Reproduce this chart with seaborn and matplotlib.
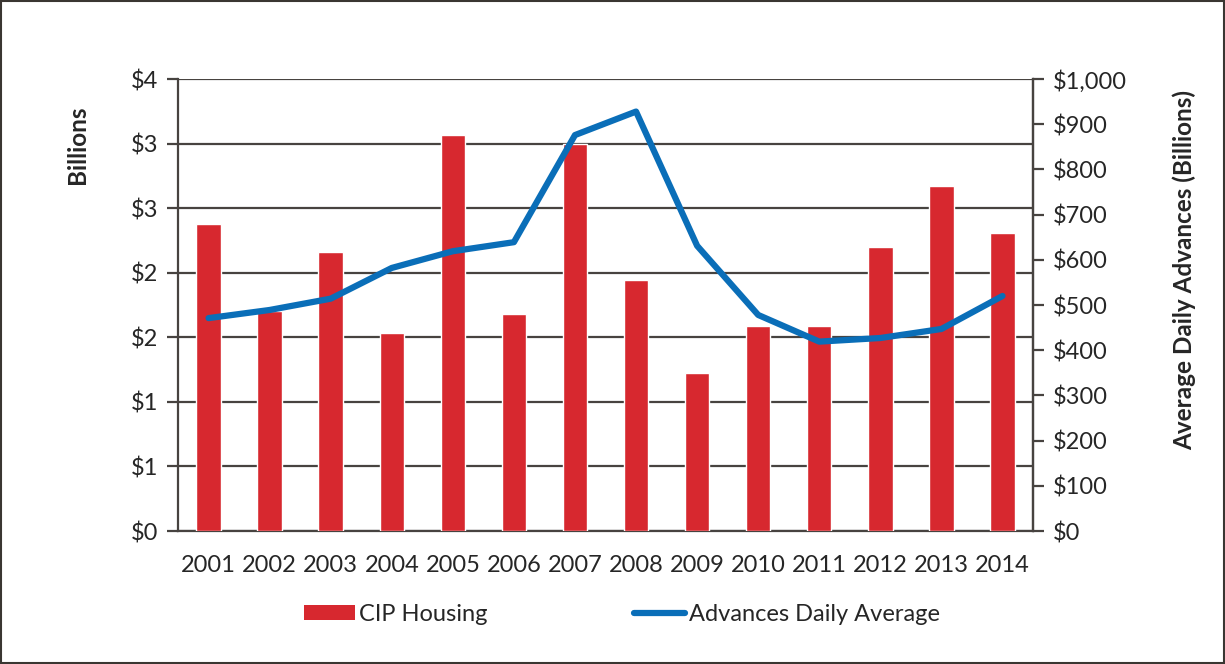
import numpy as np
import pandas as pd
import matplotlib.pyplot as plt
import matplotlib.ticker as mticker
from matplotlib.patches import Rectangle
from matplotlib.lines import Line2D
from matplotlib.patches import Patch
import seaborn as sns

years = ["2001", "2002", "2003", "2004", "2005", "2006", "2007",
         "2008", "2009", "2010", "2011", "2012", "2013", "2014"]
cip_housing = [2.38, 1.70, 2.16, 1.53, 3.07, 1.68, 3.00,
               1.94, 1.22, 1.59, 1.59, 2.20, 2.67, 2.31]
advances_avg = [471, 489, 514, 582, 619, 639, 876,
                928, 631, 478, 419, 427, 447, 520]
left_ticks = [0, 0.5, 1, 1.5, 2, 2.5, 3, 3.5]
left_tick_labels = ["$0", "$1", "$1", "$2", "$2", "$3", "$3", "$4"]
right_ticks = [0, 100, 200, 300, 400, 500, 600, 700, 800, 900, 1000]

df = pd.DataFrame({"year": years, "cip": cip_housing, "adv": advances_avg})

sns.set_style("white")
plt.rcParams["font.family"] = ["Lato", "DejaVu Sans"]

bar_color = "#D7282F"
line_color = "#0A6EB8"
grid_color = "#474340"
fs = 17

fig = plt.figure(figsize=(12.25, 6.64), dpi=100)
ax = fig.add_axes([0.1453, 0.2003, 0.698, 0.6807])

sns.barplot(data=df, x="year", y="cip", color=bar_color, width=0.4,
            saturation=1, ax=ax, zorder=3)
ax.set_ylim(0, 3.5)
ax.set_xlim(-0.5, len(years) - 0.5)
ax.set_yticks(left_ticks)
ax.set_yticklabels(left_tick_labels)
ax.yaxis.grid(True, color=grid_color, linewidth=1.6, zorder=0)
ax.set_axisbelow(True)
ax.set_xlabel("")
ax.set_ylabel("")

# tick marks between categories, labels centred under bars
ax.set_xticks(np.arange(-0.5, len(years), 1.0), minor=False)
ax.set_xticklabels([])
ax.set_xticks(np.arange(len(years)), minor=True)
ax.set_xticklabels(years, minor=True)
ax.tick_params(axis="x", which="major", length=8, width=1.6, color=grid_color,
               direction="out")
ax.tick_params(axis="x", which="minor", length=0, labelsize=fs, pad=17)
ax.tick_params(axis="y", length=8, width=1.6, color=grid_color,
               labelsize=fs, pad=6)

for side in ["left", "bottom", "right"]:
    ax.spines[side].set_color(grid_color)
    ax.spines[side].set_linewidth(1.6)
ax.spines["top"].set_visible(False)

ax2 = ax.twinx()
sns.lineplot(data=df, x="year", y="adv", color=line_color, linewidth=4.5,
             ax=ax2, sort=False, zorder=4)
ax2.set_ylim(0, 1000)
ax2.set_yticks(right_ticks)
ax2.yaxis.set_major_formatter(mticker.FuncFormatter(lambda v, p: f"${v:,.0f}"))
ax2.tick_params(axis="y", length=8, width=1.6, color=grid_color,
                labelsize=fs, pad=6)
ax2.set_ylabel("")
ax2.set_xlabel("")
for side in ["left", "bottom", "top"]:
    ax2.spines[side].set_visible(False)
ax2.spines["right"].set_color(grid_color)
ax2.spines["right"].set_linewidth(1.6)

fig.text(0.063, 0.782, "Billions", rotation=90, fontsize=17.5,
         fontweight="bold", ha="center", va="center")
fig.text(0.967, 0.593, "Average Daily Advances (Billions)", rotation=90,
         fontsize=17.5, fontweight="bold", ha="center", va="center")

handles = [Patch(facecolor=bar_color, edgecolor="none"),
           Line2D([0], [0], color=line_color, linewidth=4.5)]
fig.legend(handles, ["CIP Housing", "Advances Daily Average"],
           loc="center", bbox_to_anchor=(0.508, 0.075), ncol=2,
           frameon=False, fontsize=fs, handlelength=2.16, handleheight=0.6,
           handletextpad=0.17, columnspacing=6.2)

fig.patches.append(Rectangle((0.001, 0.001), 0.998, 0.998,
                             transform=fig.transFigure, fill=False,
                             edgecolor="#3a3632", linewidth=1.5))

fig.savefig("out.png", dpi=100)
